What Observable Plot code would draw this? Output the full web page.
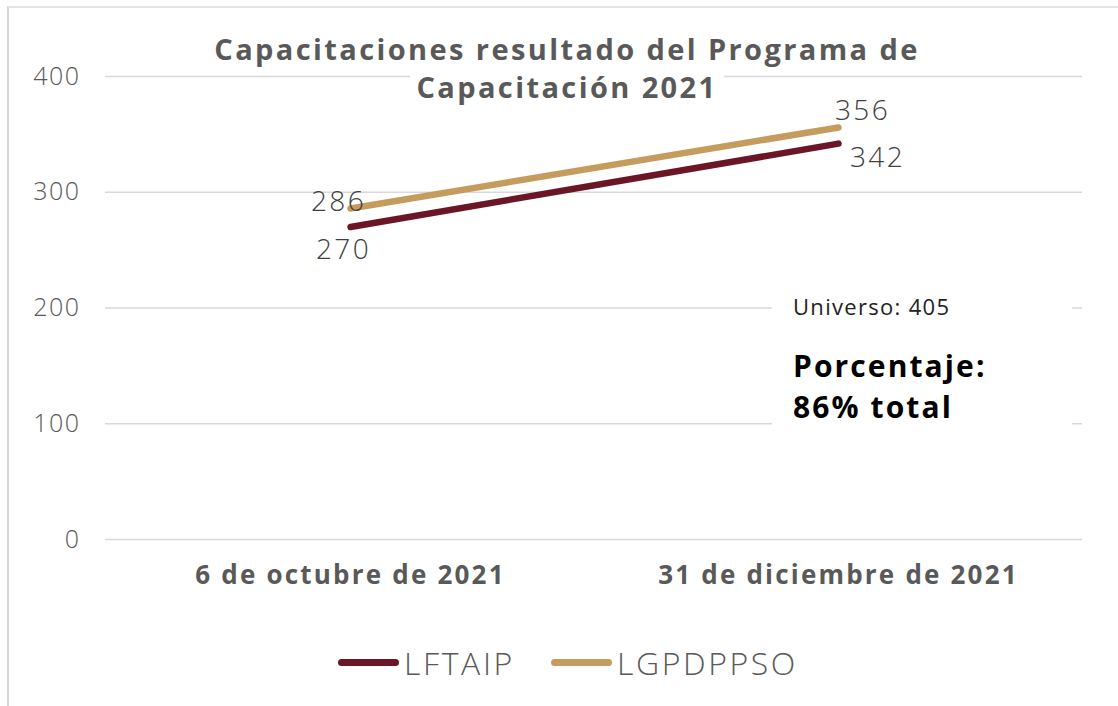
<!DOCTYPE html>
<html>
<head>
<meta charset="utf-8">
<script src="https://cdn.jsdelivr.net/npm/d3@7"></script>
<script src="https://cdn.jsdelivr.net/npm/@observablehq/plot@0.6"></script>
<style>
  html, body { margin: 0; padding: 0; background: #fff; }
  #wrap { position: relative; width: 1118px; height: 706px; overflow: hidden; font-family: "Open Sans", sans-serif; }
  #frame { position: absolute; left: 7px; top: 6px; width: 1200px; height: 800px; border-left: 2px solid #d6d6d6; border-top: 2px solid #e4e4e4; }
  #chart { position: absolute; left: 0; top: 0; }
  #title { position: absolute; left: 150px; top: 30px; width: 834px; text-align: center; font-weight: 700; font-size: 29px; letter-spacing: 2.4px; line-height: 38px; color: #595959; }
  #title span { background: #fff; padding: 0 6px; }
  #note { position: absolute; left: 772px; top: 288px; width: 300px; height: 150px; background: #fff; }
  #note .u { position: absolute; left: 21px; top: 3px; font-size: 22px; letter-spacing: 1.3px; color: #222; }
  #note .p { position: absolute; left: 21px; top: 57px; font-size: 30px; font-weight: 700; letter-spacing: 2.1px; line-height: 41px; color: #000; }
  #legend { position: absolute; left: 0; top: 641px; width: 1118px; box-sizing: border-box; padding-left: 18px; display: flex; justify-content: center; gap: 36px; font-size: 32px; letter-spacing: 2.6px; color: #595959; }
  .item { display: flex; align-items: center; gap: 5px; }
  .sw { width: 61px; height: 7px; border-radius: 4px; }
  #chart g[aria-label="x-axis tick label"] text { letter-spacing: 2.2px; }
  #chart g[aria-label="y-axis tick label"] text { letter-spacing: 1.5px; }
  #chart g[aria-label="text"] text { letter-spacing: 2.4px; }
</style>
</head>
<body>
<div id="wrap">
  <div id="frame"></div>
  <div id="chart"></div>
  <div id="title"><span>Capacitaciones resultado del Programa de</span><br><span>Capacitación 2021</span></div>
  <div id="note"><div class="u">Universo: 405</div><div class="p">Porcentaje:<br>86% total</div></div>
  <div id="legend"></div>
</div>
<script>
const categories = ["6 de octubre de 2021", "31 de diciembre de 2021"];
const seriesNames = ["LFTAIP", "LGPDPPSO"];
const LFTAIP = [270, 342];
const LGPDPPSO = [286, 356];
const yTicks = [0, 100, 200, 300, 400];
const colors = ["#6b1626", "#c69c5e"];

const values = {LFTAIP, LGPDPPSO};
const data = [];
seriesNames.forEach(s => categories.forEach((c, i) => data.push({series: s, cat: c, i, value: values[s][i]})));

// label offsets (style/layout, not data)
const offsets = {
  "LGPDPPSO-0": [-12, -6],
  "LFTAIP-0": [-7, 23],
  "LGPDPPSO-1": [24, -16],
  "LFTAIP-1": [39, 14]
};

const labelMarks = data.map(d => {
  const [dx, dy] = offsets[d.series + "-" + d.i];
  return Plot.text([d], {x: "cat", y: "value", text: d => String(d.value), dx, dy,
    fontSize: 28, fill: "#404040", fontWeight: 300, lineAnchor: "middle"});
});

const plot = Plot.plot({
  width: 1118,
  height: 610,
  marginTop: 76,
  marginBottom: 71,
  marginLeft: 105,
  marginRight: 36,
  style: {fontFamily: "Open Sans, sans-serif", background: "transparent", overflow: "visible"},
  x: {type: "point", domain: categories, padding: 0.5, label: null},
  y: {domain: [0, 400], ticks: yTicks, label: null},
  color: {domain: seriesNames, range: colors},
  marks: [
    Plot.gridY(yTicks, {stroke: "#d9d9d9", strokeOpacity: 1, strokeWidth: 1.5}),
    Plot.axisY({ticks: yTicks, tickSize: 0, tickPadding: 25, fontSize: 25, fill: "#595959", fontWeight: 300, label: null}),
    Plot.axisX({tickSize: 0, tickPadding: 26, fontSize: 26, fontWeight: 700, fill: "#595959", label: null}),
    Plot.line(data, {x: "cat", y: "value", z: "series", stroke: "series", strokeWidth: 6.5, strokeLinecap: "round"}),
    ...labelMarks
  ]
});
document.getElementById("chart").appendChild(plot);

const legend = document.getElementById("legend");
seriesNames.forEach((s, k) => {
  const it = document.createElement("div");
  it.className = "item";
  it.innerHTML = `<div class="sw" style="background:${colors[k]}"></div><span style="font-weight:300">${s}</span>`;
  legend.appendChild(it);
});
</script>
</body>
</html>
